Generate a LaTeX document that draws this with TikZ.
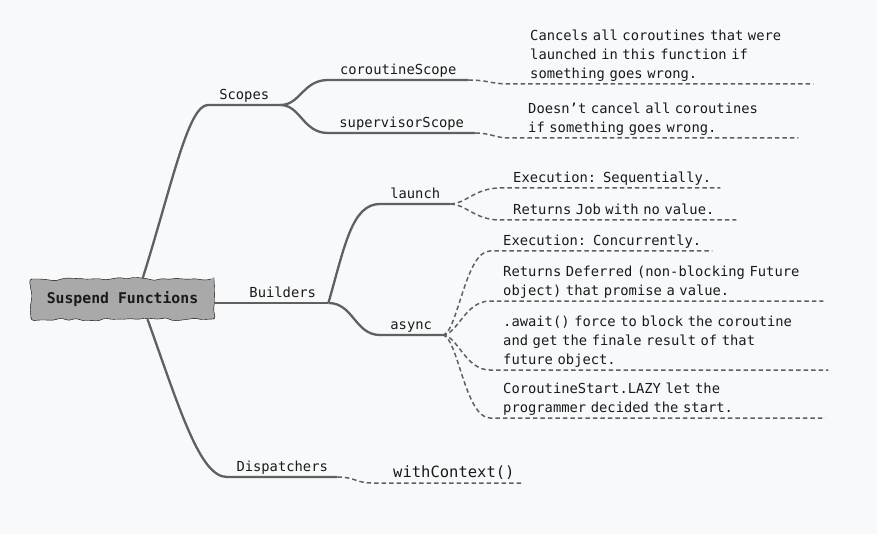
\documentclass[tikz,border=0pt]{standalone}
\usepackage{fontspec}
\setmainfont{DejaVu Sans Mono}
\usetikzlibrary{decorations.pathmorphing}
\definecolor{bgcol}{HTML}{F8F9FA}
\definecolor{linecol}{HTML}{606060}
\definecolor{cloudcol}{HTML}{A9A9A9}
\definecolor{textcol}{HTML}{1A1A1A}

\begin{document}
\begin{tikzpicture}[x=1pt,y=-1pt,
  font=\fontsize{13.8}{19}\selectfont, text=textcol,
  rootcloud/.style={draw=black, fill=cloudcol, thin, minimum width=183pt, minimum height=40pt, inner sep=0pt,
    font=\fontsize{14.8}{19}\selectfont\bfseries, decorate, rounded corners=3pt,
    decoration={random steps, segment length=7pt, amplitude=2pt}},
  branch/.style={anchor=south west, inner sep=0pt, text depth=5.5pt},
  leaf/.style={anchor=south west, inner sep=0pt, align=left, execute at end node=\strut},
  solidline/.style={draw=linecol, line width=2.3pt},
  dashline/.style={draw=linecol, line width=1.5pt, dash pattern=on 4.5pt off 3pt}]
\useasboundingbox[fill=bgcol] (0,0) rectangle (877,534);

\node[rootcloud] (root) at (122.5,299) {Suspend Functions};

\node[branch, minimum width=72pt] (scopes) at (208,105) {Scopes};
\node[branch, minimum width=91pt] (builders) at (237,303) {Builders};
\node[branch, minimum width=110pt] (dispatchers) at (227,477) {Dispatchers};
\node[branch, minimum width=140pt] (cscope) at (328,80) {coroutineScope};
\node[branch, minimum width=147pt] (sscope) at (328,133) {supervisorScope};
\node[branch, minimum width=70pt] (launch) at (380,204) {launch};
\node[branch, minimum width=62pt] (async) at (380,335) {async};

\node[leaf, text width=283pt] (cancel) at (530,84) {Cancels all coroutines that were\\launched in this function if\\something goes wrong.};
\node[leaf, text width=270pt] (dontcancel) at (528,138) {Doesn’t cancel all coroutines\\if something goes wrong.};
\node[leaf, text width=207pt] (seq) at (513,188) {Execution: Sequentially.};
\node[leaf, text width=223pt] (job) at (513,220) {Returns Job with no value.};
\node[leaf, text width=209pt] (conc) at (503,251) {Execution: Concurrently.};
\node[leaf, text width=320pt] (deferred) at (503,301) {Returns Deferred (non-blocking Future\\object) that promise a value.};
\node[leaf, text width=325pt] (await) at (503,370) {.await() force to block the coroutine\\and get the finale result of that\\future object.};
\node[leaf, text width=322pt] (lazy) at (503,418) {CoroutineStart.LAZY let the\\programmer decided the start.};
\node[leaf, text width=130pt, font=\fontsize{15.5}{19}\selectfont] (withctx) at (393,483) {withContext()};

\draw[solidline] ([xshift=20pt]root.north) .. controls (172,185) and (188,105) .. (scopes.south west) -- (scopes.south east);
\draw[solidline] (root.east |- builders.south west) -- (builders.south west) -- (builders.south east);
\draw[solidline] ([xshift=25pt]root.south) .. controls (180,410) and (200,477) .. (dispatchers.south west) -- (dispatchers.south east);
\draw[solidline] (scopes.south east) .. controls +(20,0) and +(-25,0) .. (cscope.south west) -- (cscope.south east);
\draw[solidline] (scopes.south east) .. controls +(20,0) and +(-25,0) .. (sscope.south west) -- (sscope.south east);
\draw[solidline] (builders.south east) .. controls (345,245) and (352,204) .. (launch.south west) -- (launch.south east);
\draw[solidline] (builders.south east) .. controls +(25,0) and +(-25,0) .. (async.south west) -- (async.south east);

\draw[dashline] (cscope.south east) .. controls +(20,0) and +(-20,0) .. ([xshift=-20pt]cancel.south west) -- (cancel.south east);
\draw[dashline] (sscope.south east) .. controls +(15,0) and +(-15,0) .. ([xshift=-18pt]dontcancel.south west) -- (dontcancel.south east);
\foreach \n in {seq,job}
  \draw[dashline] (launch.south east) .. controls +(15,0) and +(-25,0) .. ([xshift=-13pt]\n.south west) -- (\n.south east);
\foreach \n in {conc,deferred,await,lazy}
  \draw[dashline] (async.south east) .. controls +(15,0) and +(-25,0) .. ([xshift=-13pt]\n.south west) -- (\n.south east);
\draw[dashline] (dispatchers.south east) .. controls +(18,0) and +(-18,0) .. ([xshift=-20pt]withctx.south west) -- (withctx.south east);
\end{tikzpicture}
\end{document}
